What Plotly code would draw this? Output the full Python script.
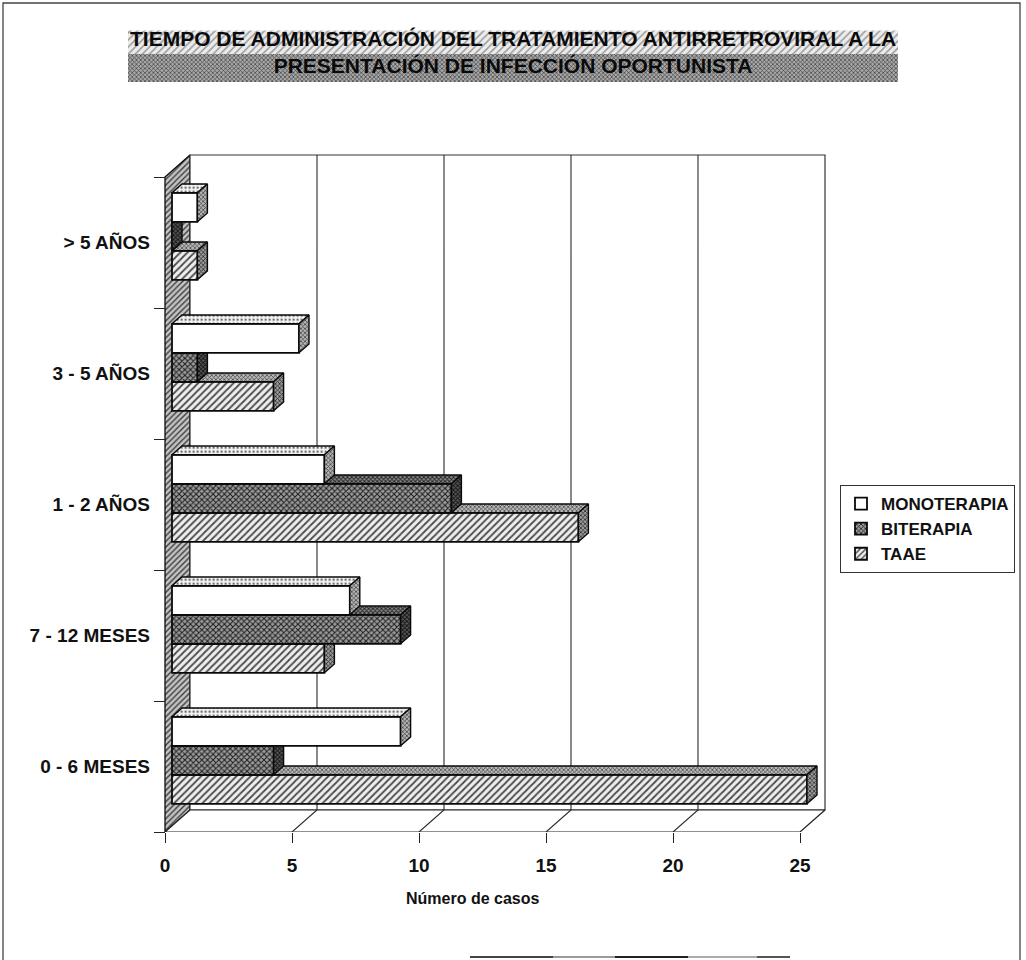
import plotly.graph_objects as go

# ---- data -------------------------------------------------------------
categorias = ["0 - 6 MESES", "7 - 12 MESES", "1 - 2 AÑOS", "3 - 5 AÑOS", "> 5 AÑOS"]
monoterapia = [9, 7, 6, 5, 1]
biterapia = [4, 9, 11, 1, 0]
taae = [25, 6, 16, 4, 1]
ticks_casos = [0, 5, 10, 15, 20, 25]
series_nombres = ["MONOTERAPIA", "BITERAPIA", "TAAE"]

# ---- page geometry (pixels) ------------------------------------------
W, H = 1026, 960
X0_PX = 165.0      # value 0 on the front plane
PX_X = 25.4        # pixels per case
Y0_PX = 832.0      # bottom edge of the front plane
PX_Y = 131.0       # pixels per category band
X_RANGE = [-1.0, 27.0]
Y_RANGE = [0.0, 5.3]
N = len(categorias)
XMAX = ticks_casos[-1]


def pxx(px):
    return px / W


def pxy(py):
    return (H - py) / H


x_dom = [pxx(X0_PX + X_RANGE[0] * PX_X), pxx(X0_PX + X_RANGE[1] * PX_X)]
y_dom = [pxy(Y0_PX - Y_RANGE[0] * PX_Y), pxy(Y0_PX - Y_RANGE[1] * PX_Y)]

# depth offsets of the pseudo-3D box, in data units
DX, DY = 25 / PX_X, 22 / PX_Y            # whole wall depth
BFX, BFY = 7 / PX_X, 6.2 / PX_Y          # front face of the bars
BBX, BBY = 17 / PX_X, 15 / PX_Y          # back face of the bars
BAR_H = 29 / PX_Y                        # thickness of one bar

FONT = "Liberation Sans, Arial, sans-serif"
EDGE = "#0a0a0a"

fig = go.Figure()

# ---- walls, floor and gridlines (base subplot) -----------------------
# left side wall
fig.add_trace(go.Scatter(
    x=[0, 0, DX, DX, 0], y=[0, N, N + DY, DY, 0],
    mode="lines", fill="toself", line=dict(color=EDGE, width=1.3),
    fillcolor="#b5b5b5",
    fillpattern=dict(shape="/", fgcolor="#3c3c3c", bgcolor="#c4c4c4", size=4, solidity=0.35),
    hoverinfo="skip", showlegend=False))
# back wall
fig.add_trace(go.Scatter(
    x=[DX, XMAX + DX, XMAX + DX, DX, DX], y=[DY, DY, N + DY, N + DY, DY],
    mode="lines", fill="toself", fillcolor="white",
    line=dict(color="#333333", width=1.2),
    hoverinfo="skip", showlegend=False))
# floor
fig.add_trace(go.Scatter(
    x=[0, XMAX, XMAX + DX, DX, 0], y=[0, 0, DY, DY, 0],
    mode="lines", fill="toself", fillcolor="white",
    line=dict(color="#222222", width=1.2),
    hoverinfo="skip", showlegend=False))
# gridlines on the back wall and their continuation across the floor
gx, gy = [], []
for v in ticks_casos[1:-1]:
    gx += [v, v + DX, v + DX, None]
    gy += [0, DY, N + DY, None]
fig.add_trace(go.Scatter(
    x=gx, y=gy, mode="lines", line=dict(color="#2a2a2a", width=1.1),
    hoverinfo="skip", showlegend=False))

# ---- bars -------------------------------------------------------------
estilos = {
    "TAAE": dict(
        front=dict(color="#e6e6e6",
                   pattern=dict(shape="/", fgcolor="#4a4a4a", bgcolor="#eeeeee", size=5, solidity=0.35)),
        top=dict(shape="x", fgcolor="#3a3a3a", bgcolor="#b8b8b8", size=3, solidity=0.4),
        side=dict(shape="x", fgcolor="#2a2a2a", bgcolor="#9a9a9a", size=3, solidity=0.45),
        slot=-1, rank=3),
    "BITERAPIA": dict(
        front=dict(color="#7a7a7a",
                   pattern=dict(shape="x", fgcolor="#1e1e1e", bgcolor="#9c9c9c", size=4, solidity=0.45)),
        top=dict(shape="x", fgcolor="#222222", bgcolor="#8a8a8a", size=3, solidity=0.5),
        side=dict(shape="x", fgcolor="#111111", bgcolor="#5a5a5a", size=3, solidity=0.5),
        slot=0, rank=2),
    "MONOTERAPIA": dict(
        front=dict(color="white"),
        top=dict(shape=".", fgcolor="#666666", bgcolor="#f4f4f4", size=4, solidity=0.25),
        side=dict(shape="x", fgcolor="#333333", bgcolor="#b4b4b4", size=3, solidity=0.4),
        slot=1, rank=1),
}
valores = {"MONOTERAPIA": monoterapia, "BITERAPIA": biterapia, "TAAE": taae}

# drawn bottom bar first so that the bar above covers its top face
for k, nombre in enumerate(["TAAE", "BITERAPIA", "MONOTERAPIA"]):
    est = estilos[nombre]
    vals = valores[nombre]
    xa, ya = f"x{k + 2}", f"y{k + 2}"
    yc = [i + 0.5 + BFY + est["slot"] * BAR_H for i in range(N)]

    fig.add_trace(go.Bar(
        orientation="h", y=yc, x=vals, base=BFX, width=BAR_H,
        name=nombre, legendrank=est["rank"],
        marker=dict(line=dict(color=EDGE, width=1.8), **est["front"]),
        xaxis=xa, yaxis=ya, hoverinfo="skip"))

    tx, ty, sx, sy = [], [], [], []
    for v, c in zip(vals, yc):
        x0, x1 = BFX, BFX + v
        yt, yb = c + BAR_H / 2, c - BAR_H / 2
        ddx, ddy = BBX - BFX, BBY - BFY
        tx += [x0, x0 + ddx, x1 + ddx, x1, x0, None]
        ty += [yt, yt + ddy, yt + ddy, yt, yt, None]
        sx += [x1, x1, x1 + ddx, x1 + ddx, x1, None]
        sy += [yb, yt, yt + ddy, yb + ddy, yb, None]
    fig.add_trace(go.Scatter(
        x=tx, y=ty, mode="lines", fill="toself", fillpattern=est["top"],
        line=dict(color=EDGE, width=1.4), xaxis=xa, yaxis=ya,
        hoverinfo="skip", showlegend=False))
    fig.add_trace(go.Scatter(
        x=sx, y=sy, mode="lines", fill="toself", fillpattern=est["side"],
        line=dict(color=EDGE, width=1.4), xaxis=xa, yaxis=ya,
        hoverinfo="skip", showlegend=False))

# ---- title band -------------------------------------------------------
fig.add_trace(go.Scatter(
    x=[0, 1, 1, 0, 0], y=[0.5, 0.5, 0.92, 0.92, 0.5], mode="lines", fill="toself",
    line=dict(width=0), fillpattern=dict(shape="/", fgcolor="#9a9a9a", bgcolor="#ececec", size=5, solidity=0.3),
    xaxis="x5", yaxis="y5", hoverinfo="skip", showlegend=False))
fig.add_trace(go.Scatter(
    x=[0, 1, 1, 0, 0], y=[0, 0, 0.5, 0.5, 0], mode="lines", fill="toself",
    line=dict(width=0), fillpattern=dict(shape="x", fgcolor="#3c3c3c", bgcolor="#a8a8a8", size=3, solidity=0.4),
    xaxis="x5", yaxis="y5", hoverinfo="skip", showlegend=False))

# ---- axes -------------------------------------------------------------
hidden_x = dict(overlaying="x", range=X_RANGE, domain=x_dom, visible=False, fixedrange=True)
hidden_y = dict(overlaying="y", range=Y_RANGE, domain=y_dom, visible=False, fixedrange=True)

fig.update_layout(
    width=W, height=H, autosize=False,
    margin=dict(l=0, r=0, t=0, b=0),
    template="none",
    paper_bgcolor="white", plot_bgcolor="rgba(0,0,0,0)",
    barmode="overlay",
    font=dict(family=FONT, color="#111111"),
    xaxis=dict(domain=x_dom, range=X_RANGE, anchor="y", showgrid=False, zeroline=False,
               showline=False, tickmode="array", tickvals=ticks_casos,
               ticktext=[str(t) for t in ticks_casos],
               ticks="outside", ticklen=10, tickwidth=1.2, tickcolor="#222222",
               tickfont=dict(family=FONT, size=19, weight="bold", color="#111111"),
               ticklabelstandoff=6, fixedrange=True),
    yaxis=dict(domain=y_dom, range=Y_RANGE, anchor="free", position=pxx(X0_PX),
               showgrid=False, zeroline=False, showline=False,
               tickmode="array", tickvals=[i + 0.5 for i in range(N)], ticktext=categorias,
               ticks="", ticklabelstandoff=15,
               tickfont=dict(family=FONT, size=19, weight="bold", color="#111111"),
               fixedrange=True),
    xaxis2=hidden_x, xaxis3=hidden_x, xaxis4=hidden_x,
    yaxis2=dict(overlaying="y", range=Y_RANGE, domain=y_dom, anchor="free", position=pxx(X0_PX),
                showgrid=False, zeroline=False, showline=False, showticklabels=False,
                tickmode="array", tickvals=list(range(N + 1)),
                ticks="outside", ticklen=11, tickwidth=1.2, tickcolor="#222222", fixedrange=True),
    yaxis3=hidden_y, yaxis4=hidden_y,
    xaxis5=dict(domain=[pxx(128), pxx(898)], range=[0, 1], anchor="y5", visible=False, fixedrange=True),
    yaxis5=dict(domain=[pxy(82), pxy(26)], range=[0, 1], anchor="x5", visible=False, fixedrange=True),
    legend=dict(x=pxx(840), y=pxy(485), xanchor="left", yanchor="top",
                bgcolor="white", bordercolor="#333333", borderwidth=1,
                font=dict(family=FONT, size=17, weight="bold", color="#111111"),
                itemwidth=30, tracegroupgap=0),
    showlegend=True,
)

fig.add_annotation(
    text="TIEMPO DE ADMINISTRACIÓN DEL TRATAMIENTO ANTIRRETROVIRAL A LA<br>PRESENTACIÓN DE INFECCIÓN OPORTUNISTA",
    x=pxx(513), y=pxy(52), xref="paper", yref="paper", showarrow=False,
    xanchor="center", yanchor="middle",
    font=dict(family=FONT, size=21, weight="bold", color="#0a0a0a"))
fig.add_annotation(
    text="Número de casos", x=pxx(472), y=pxy(898), xref="paper", yref="paper",
    showarrow=False, xanchor="center", yanchor="middle",
    font=dict(family=FONT, size=16, weight="bold", color="#111111"))

# outer frame of the page
fig.add_shape(type="rect", xref="paper", yref="paper",
              x0=pxx(3), x1=pxx(1020), y0=-0.05, y1=pxy(3),
              line=dict(color="#444444", width=1.3), layer="below")
# fragments at the bottom edge
for a, b, col in [(470, 553, "#444444"), (553, 615, "#9a9a9a"), (615, 688, "#222222"),
                  (688, 757, "#aaaaaa"), (757, 790, "#555555")]:
    fig.add_shape(type="line", xref="paper", yref="paper",
                  x0=pxx(a), x1=pxx(b), y0=pxy(957), y1=pxy(957),
                  line=dict(color=col, width=2))

fig.write_html("out.html")
